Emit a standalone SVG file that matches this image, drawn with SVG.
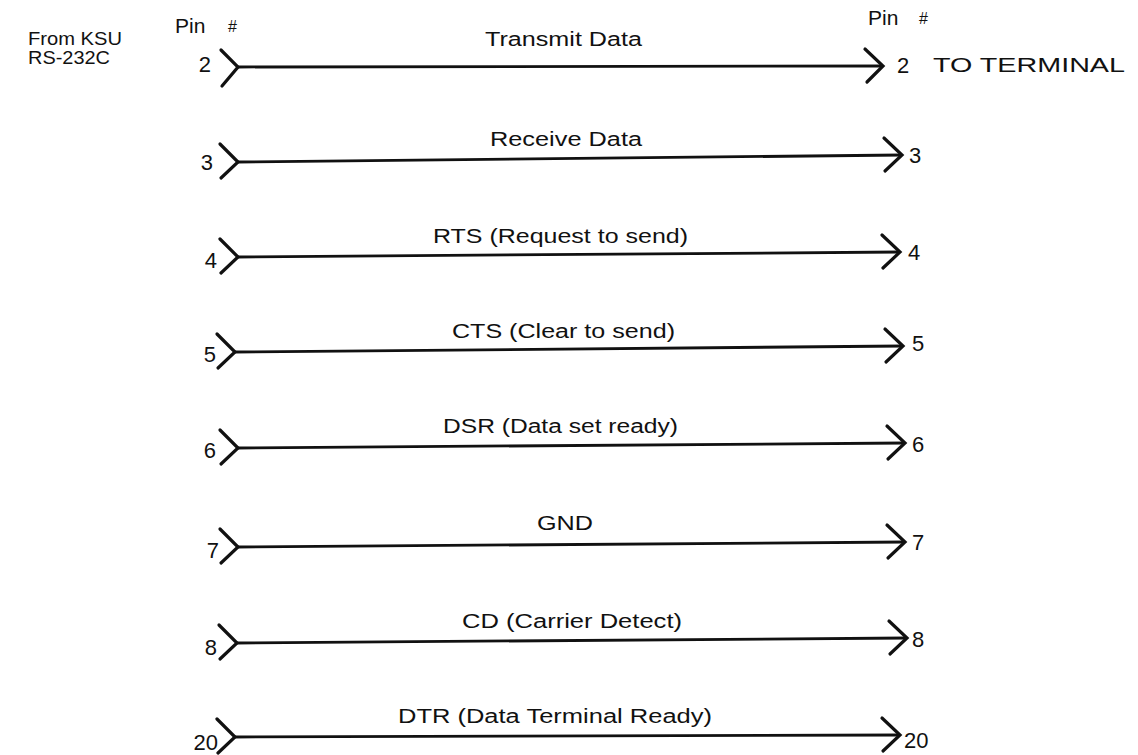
<svg xmlns="http://www.w3.org/2000/svg" width="1138" height="755" viewBox="0 0 1138 755">
<style>
text{font-family:"Liberation Sans",Arial,sans-serif;fill:#111}
.hdr{font-size:19px}
.pin{font-size:21px}
.hash{font-size:16px}
.num{font-size:22px}
.lbl{font-size:20px}
.wire{stroke:#111;stroke-width:2.8;fill:none}
.chev{stroke:#111;stroke-width:3.2;fill:none;stroke-linecap:round;stroke-linejoin:miter}
</style>
<rect width="1138" height="755" fill="#fff"/>
<g id="headers">
<text class="hdr" x="28" y="45" textLength="94" lengthAdjust="spacingAndGlyphs">From KSU</text>
<text class="hdr" x="28" y="64" textLength="82" lengthAdjust="spacingAndGlyphs">RS-232C</text>
<text class="pin" x="175" y="33">Pin</text>
<text class="hash" x="228" y="32">#</text>
<text class="pin" x="868" y="25">Pin</text>
<text class="hash" x="919" y="24">#</text>
<text class="pin" x="933" y="72" textLength="192" lengthAdjust="spacingAndGlyphs">TO TERMINAL</text>
</g>
<g id="connectors">
<line class="wire" x1="238" y1="67" x2="883" y2="66"/>
<line class="wire" x1="238" y1="162" x2="902" y2="155"/>
<line class="wire" x1="238" y1="257" x2="900" y2="252"/>
<line class="wire" x1="235" y1="352" x2="903" y2="346"/>
<line class="wire" x1="238" y1="448" x2="905" y2="443"/>
<line class="wire" x1="238" y1="547" x2="905" y2="542"/>
<line class="wire" x1="237" y1="643" x2="907" y2="638"/>
<line class="wire" x1="235" y1="737" x2="900" y2="735"/>
<polyline class="chev" points="221,50 238,67 222,86"/>
<polyline class="chev" points="220,144 238,162 221,178"/>
<polyline class="chev" points="220,239 238,257 221,273"/>
<polyline class="chev" points="217,334 235,352 218,368"/>
<polyline class="chev" points="220,430 238,448 221,464"/>
<polyline class="chev" points="220,529 238,547 221,563"/>
<polyline class="chev" points="219,625 237,643 220,659"/>
<polyline class="chev" points="217,719 235,737 218,753"/>
<polyline class="chev" points="865,49 883,66 867,82"/>
<polyline class="chev" points="884,138 902,155 885,171"/>
<polyline class="chev" points="882,235 900,252 883,268"/>
<polyline class="chev" points="885,329 903,346 886,362"/>
<polyline class="chev" points="887,426 905,443 888,459"/>
<polyline class="chev" points="887,525 905,542 888,558"/>
<polyline class="chev" points="889,621 907,638 890,654"/>
<polyline class="chev" points="882,718 900,735 883,751"/>
</g>
<g id="pin2"><text class="num" x="211" y="72" text-anchor="end">2</text><text class="lbl" x="485" y="46" textLength="157" lengthAdjust="spacingAndGlyphs">Transmit Data</text><text class="num" x="897" y="73">2</text></g>
<g id="pin3"><text class="num" x="213" y="170" text-anchor="end">3</text><text class="lbl" x="490" y="146" textLength="152" lengthAdjust="spacingAndGlyphs">Receive Data</text><text class="num" x="909" y="163">3</text></g>
<g id="pin4"><text class="num" x="217" y="268" text-anchor="end">4</text><text class="lbl" x="433" y="243" textLength="255" lengthAdjust="spacingAndGlyphs">RTS (Request to send)</text><text class="num" x="908" y="260">4</text></g>
<g id="pin5"><text class="num" x="216" y="362" text-anchor="end">5</text><text class="lbl" x="452" y="338" textLength="223" lengthAdjust="spacingAndGlyphs">CTS (Clear to send)</text><text class="num" x="912" y="351">5</text></g>
<g id="pin6"><text class="num" x="216" y="458" text-anchor="end">6</text><text class="lbl" x="443" y="433" textLength="235" lengthAdjust="spacingAndGlyphs">DSR (Data set ready)</text><text class="num" x="912" y="452">6</text></g>
<g id="pin7"><text class="num" x="219" y="558" text-anchor="end">7</text><text class="lbl" x="537" y="530" textLength="56" lengthAdjust="spacingAndGlyphs">GND</text><text class="num" x="912" y="550">7</text></g>
<g id="pin8"><text class="num" x="217" y="655" text-anchor="end">8</text><text class="lbl" x="462" y="628" textLength="220" lengthAdjust="spacingAndGlyphs">CD (Carrier Detect)</text><text class="num" x="912" y="647">8</text></g>
<g id="pin20"><text class="num" x="218" y="750" text-anchor="end">20</text><text class="lbl" x="398" y="723" textLength="314" lengthAdjust="spacingAndGlyphs">DTR (Data Terminal Ready)</text><text class="num" x="904" y="748">20</text></g>
</svg>
